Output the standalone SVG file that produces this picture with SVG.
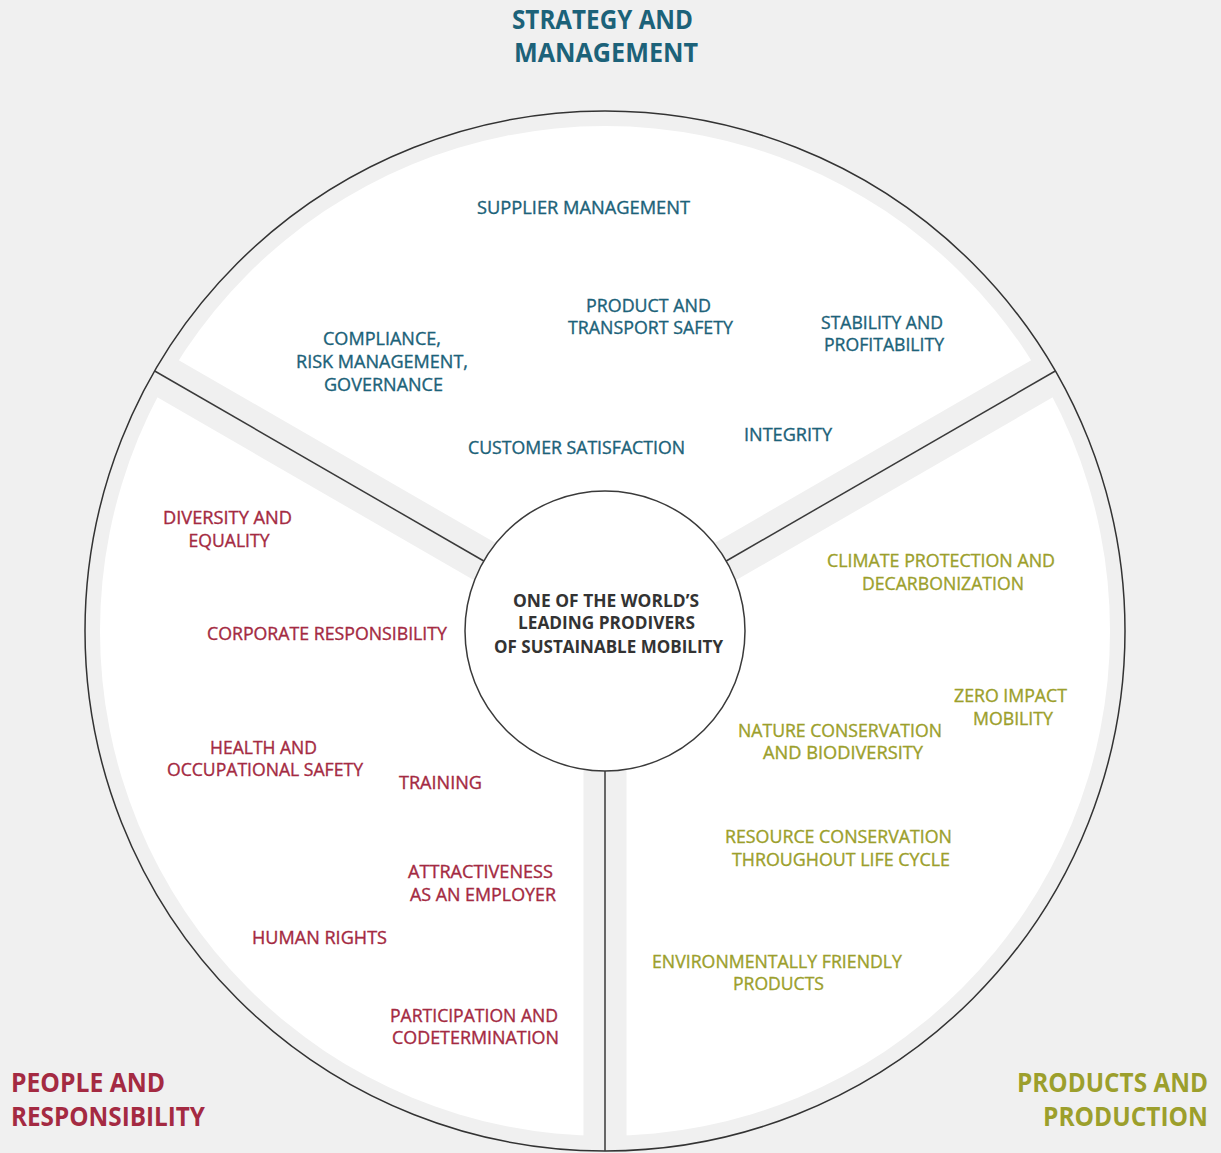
<svg xmlns="http://www.w3.org/2000/svg" width="1221" height="1153" viewBox="0 0 1221 1153">
<style>
.bg{fill:#f0f0f0}
.ring{fill:#f0f0f0;stroke:#333;stroke-width:1.5}
.white{fill:#fff}
.band{stroke:#f0f0f0;stroke-width:43;fill:none}
.div{stroke:#3a3a3a;stroke-width:1.5;fill:none}
.core{fill:#fff;stroke:#3a3a3a;stroke-width:1.5}
text{font-family:"Open Sans","Noto Sans","Liberation Sans",sans-serif}
.h{font-size:26px;font-weight:700}
.i{font-size:17.5px;text-anchor:middle;stroke-width:0.35}
.c{font-size:17.5px;font-weight:700;fill:#333;text-anchor:middle}
.teal{fill:#1c6279}
.red{fill:#a42a42}
.olive{fill:#9c9f2c}
.i.teal{stroke:#1c6279}
.i.red{stroke:#a42a42}
.i.olive{stroke:#9c9f2c}
</style>
<rect class="bg" x="0" y="0" width="1221" height="1153"/>
<g id="wheel">
<circle class="ring" cx="605" cy="631" r="520"/>
<circle class="white" cx="605" cy="631" r="505"/>
<line class="band" x1="605" y1="631" x2="605" y2="1140"/>
<line class="band" x1="605" y1="631" x2="165" y2="377"/>
<line class="band" x1="605" y1="631" x2="1045" y2="377"/>
</g>
<g id="connectors">
<line class="div" x1="605" y1="771" x2="605" y2="1151"/>
<line class="div" x1="483.8" y1="561" x2="154.7" y2="371"/>
<line class="div" x1="726.2" y1="561" x2="1055.3" y2="371"/>
</g>
<g id="center">
<circle class="core" cx="605" cy="631" r="140"/>
<text class="c" x="606" y="607" textLength="186" lengthAdjust="spacingAndGlyphs">ONE OF THE WORLD’S</text>
<text class="c" x="606.5" y="629" textLength="177" lengthAdjust="spacingAndGlyphs">LEADING PRODIVERS</text>
<text class="c" x="608.5" y="653" textLength="229" lengthAdjust="spacingAndGlyphs">OF SUSTAINABLE MOBILITY</text>
</g>
<g id="heading-strategy">
<text class="h teal" x="512" y="29" textLength="181" lengthAdjust="spacingAndGlyphs">STRATEGY AND</text>
<text class="h teal" x="514" y="62" textLength="184" lengthAdjust="spacingAndGlyphs">MANAGEMENT</text>
</g>
<g id="heading-people">
<text class="h red" x="11" y="1092" textLength="154" lengthAdjust="spacingAndGlyphs">PEOPLE AND</text>
<text class="h red" x="11" y="1126" textLength="194" lengthAdjust="spacingAndGlyphs">RESPONSIBILITY</text>
</g>
<g id="heading-products">
<text class="h olive" x="1208" y="1092" text-anchor="end" textLength="191" lengthAdjust="spacingAndGlyphs">PRODUCTS AND</text>
<text class="h olive" x="1208" y="1126" text-anchor="end" textLength="165" lengthAdjust="spacingAndGlyphs">PRODUCTION</text>
</g>
<g id="supplier-management">
<text class="i teal" x="583.5" y="214" textLength="213" lengthAdjust="spacingAndGlyphs">SUPPLIER MANAGEMENT</text>
</g>
<g id="product-transport-safety">
<text class="i teal" x="648.5" y="312" textLength="125" lengthAdjust="spacingAndGlyphs">PRODUCT AND</text>
<text class="i teal" x="650.5" y="334" textLength="165" lengthAdjust="spacingAndGlyphs">TRANSPORT SAFETY</text>
</g>
<g id="compliance">
<text class="i teal" x="382" y="345" textLength="118" lengthAdjust="spacingAndGlyphs">COMPLIANCE,</text>
<text class="i teal" x="382" y="368" textLength="172" lengthAdjust="spacingAndGlyphs">RISK MANAGEMENT,</text>
<text class="i teal" x="383.5" y="391" textLength="119" lengthAdjust="spacingAndGlyphs">GOVERNANCE</text>
</g>
<g id="stability">
<text class="i teal" x="882" y="329" textLength="122" lengthAdjust="spacingAndGlyphs">STABILITY AND</text>
<text class="i teal" x="884" y="351" textLength="120" lengthAdjust="spacingAndGlyphs">PROFITABILITY</text>
</g>
<g id="customer-satisfaction">
<text class="i teal" x="576.5" y="454" textLength="217" lengthAdjust="spacingAndGlyphs">CUSTOMER SATISFACTION</text>
</g>
<g id="integrity">
<text class="i teal" x="788" y="441" textLength="88" lengthAdjust="spacingAndGlyphs">INTEGRITY</text>
</g>
<g id="diversity">
<text class="i red" x="227.5" y="524" textLength="129" lengthAdjust="spacingAndGlyphs">DIVERSITY AND</text>
<text class="i red" x="229" y="547" textLength="81" lengthAdjust="spacingAndGlyphs">EQUALITY</text>
</g>
<g id="corporate-responsibility">
<text class="i red" x="327" y="640" textLength="240" lengthAdjust="spacingAndGlyphs">CORPORATE RESPONSIBILITY</text>
</g>
<g id="health">
<text class="i red" x="263.5" y="754" textLength="107" lengthAdjust="spacingAndGlyphs">HEALTH AND</text>
<text class="i red" x="265" y="776" textLength="196" lengthAdjust="spacingAndGlyphs">OCCUPATIONAL SAFETY</text>
</g>
<g id="training">
<text class="i red" x="440.5" y="789" textLength="83" lengthAdjust="spacingAndGlyphs">TRAINING</text>
</g>
<g id="attractiveness">
<text class="i red" x="480.5" y="878" textLength="145" lengthAdjust="spacingAndGlyphs">ATTRACTIVENESS</text>
<text class="i red" x="483" y="901" textLength="146" lengthAdjust="spacingAndGlyphs">AS AN EMPLOYER</text>
</g>
<g id="human-rights">
<text class="i red" x="319.5" y="944" textLength="135" lengthAdjust="spacingAndGlyphs">HUMAN RIGHTS</text>
</g>
<g id="participation">
<text class="i red" x="474" y="1021.5" textLength="168" lengthAdjust="spacingAndGlyphs">PARTICIPATION AND</text>
<text class="i red" x="475.5" y="1043.5" textLength="167" lengthAdjust="spacingAndGlyphs">CODETERMINATION</text>
</g>
<g id="climate">
<text class="i olive" x="941" y="567" textLength="228" lengthAdjust="spacingAndGlyphs">CLIMATE PROTECTION AND</text>
<text class="i olive" x="943" y="590" textLength="162" lengthAdjust="spacingAndGlyphs">DECARBONIZATION</text>
</g>
<g id="zero-impact">
<text class="i olive" x="1010.5" y="702" textLength="113" lengthAdjust="spacingAndGlyphs">ZERO IMPACT</text>
<text class="i olive" x="1013" y="725" textLength="80" lengthAdjust="spacingAndGlyphs">MOBILITY</text>
</g>
<g id="nature">
<text class="i olive" x="840" y="737" textLength="204" lengthAdjust="spacingAndGlyphs">NATURE CONSERVATION</text>
<text class="i olive" x="843" y="759" textLength="160" lengthAdjust="spacingAndGlyphs">AND BIODIVERSITY</text>
</g>
<g id="resource">
<text class="i olive" x="838.5" y="843" textLength="227" lengthAdjust="spacingAndGlyphs">RESOURCE CONSERVATION</text>
<text class="i olive" x="841" y="866" textLength="218" lengthAdjust="spacingAndGlyphs">THROUGHOUT LIFE CYCLE</text>
</g>
<g id="env-friendly">
<text class="i olive" x="777" y="968" textLength="250" lengthAdjust="spacingAndGlyphs">ENVIRONMENTALLY FRIENDLY</text>
<text class="i olive" x="778.5" y="990" textLength="91" lengthAdjust="spacingAndGlyphs">PRODUCTS</text>
</g>
</svg>
